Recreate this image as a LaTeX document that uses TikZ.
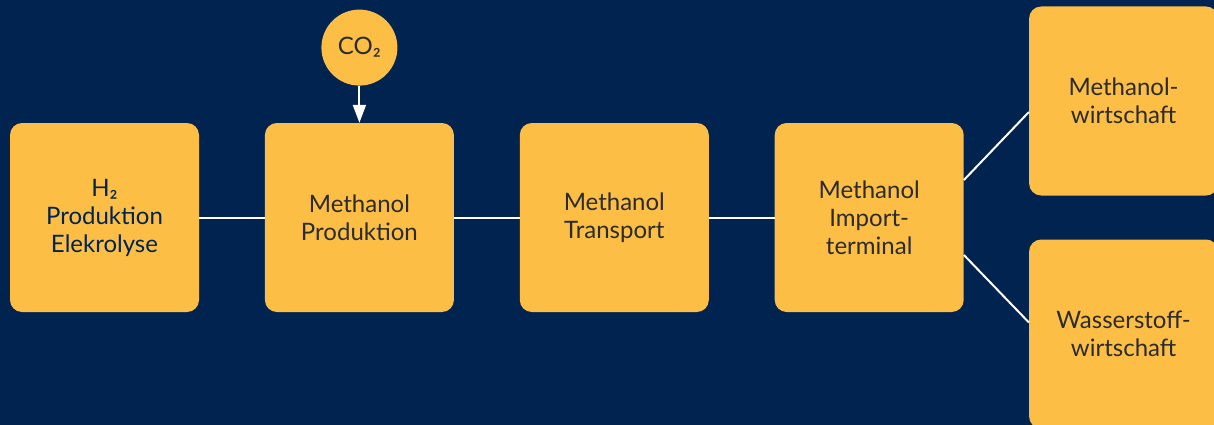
\documentclass[tikz,border=0pt]{standalone}
\usepackage{fontspec}
\setmainfont{Lato}
\usetikzlibrary{positioning, arrows.meta}
\definecolor{navy}{HTML}{002350}
\definecolor{gold}{HTML}{FCBE45}
\definecolor{ink}{HTML}{2B2B2B}

\begin{document}
\begin{tikzpicture}[x=1pt, y=1pt]
		\tikzstyle{main}=[rectangle, rounded corners=12pt, fill=gold, minimum size=189pt, text width=182pt, align=center, text=ink, font=\fontsize{24}{28}\selectfont, node distance=65.5pt]
		\tikzstyle{source}=[circle, fill=gold, minimum size=76pt, inner sep=0pt, text=ink, font=\fontsize{24}{28}\selectfont]
		\tikzstyle{connect}=[white, line width=2pt]
		\useasboundingbox (0,0) rectangle (1214,-425);
		\clip (0,0) rectangle (1214,-425);
		\fill[navy] (0,0) rectangle (1214,-425);
		
		\node[main, text=navy] (h2) at (104.5,-217.5) {H₂\\Produktion\\Elekrolyse};
		\node[main] (methprod) [right=of h2] {Methanol\\Produktion};
		\node[main] (transport) [right=of methprod] {Methanol\\Transport};
		\node[main] (import) [right=of transport] {Methanol\\Import-\\terminal};
		
		\node[main] (methwirt) [right=65pt of import, yshift=116.5pt] {Methanol-\\wirtschaft};
		\node[main] (h2wirt) [right=65pt of import, yshift=-116.5pt] {Wasserstoff-\\wirtschaft};
		
		\node[source] (co2) [above=37pt of methprod] {CO₂};
		
		\path (co2) edge [connect, -{Triangle[width=13pt, length=18pt]}] (methprod);
		
		\path (h2) edge [connect] (methprod);
		\path (methprod) edge [connect] (transport);
		\path (transport) edge [connect] (import);
		
		\path ([yshift=37.5pt]import.east) edge [connect] ([yshift=-11pt]methwirt.west);
		\path ([yshift=-37.5pt]import.east) edge [connect] ([yshift=11.5pt]h2wirt.west);
		
	\end{tikzpicture}
\end{document}
